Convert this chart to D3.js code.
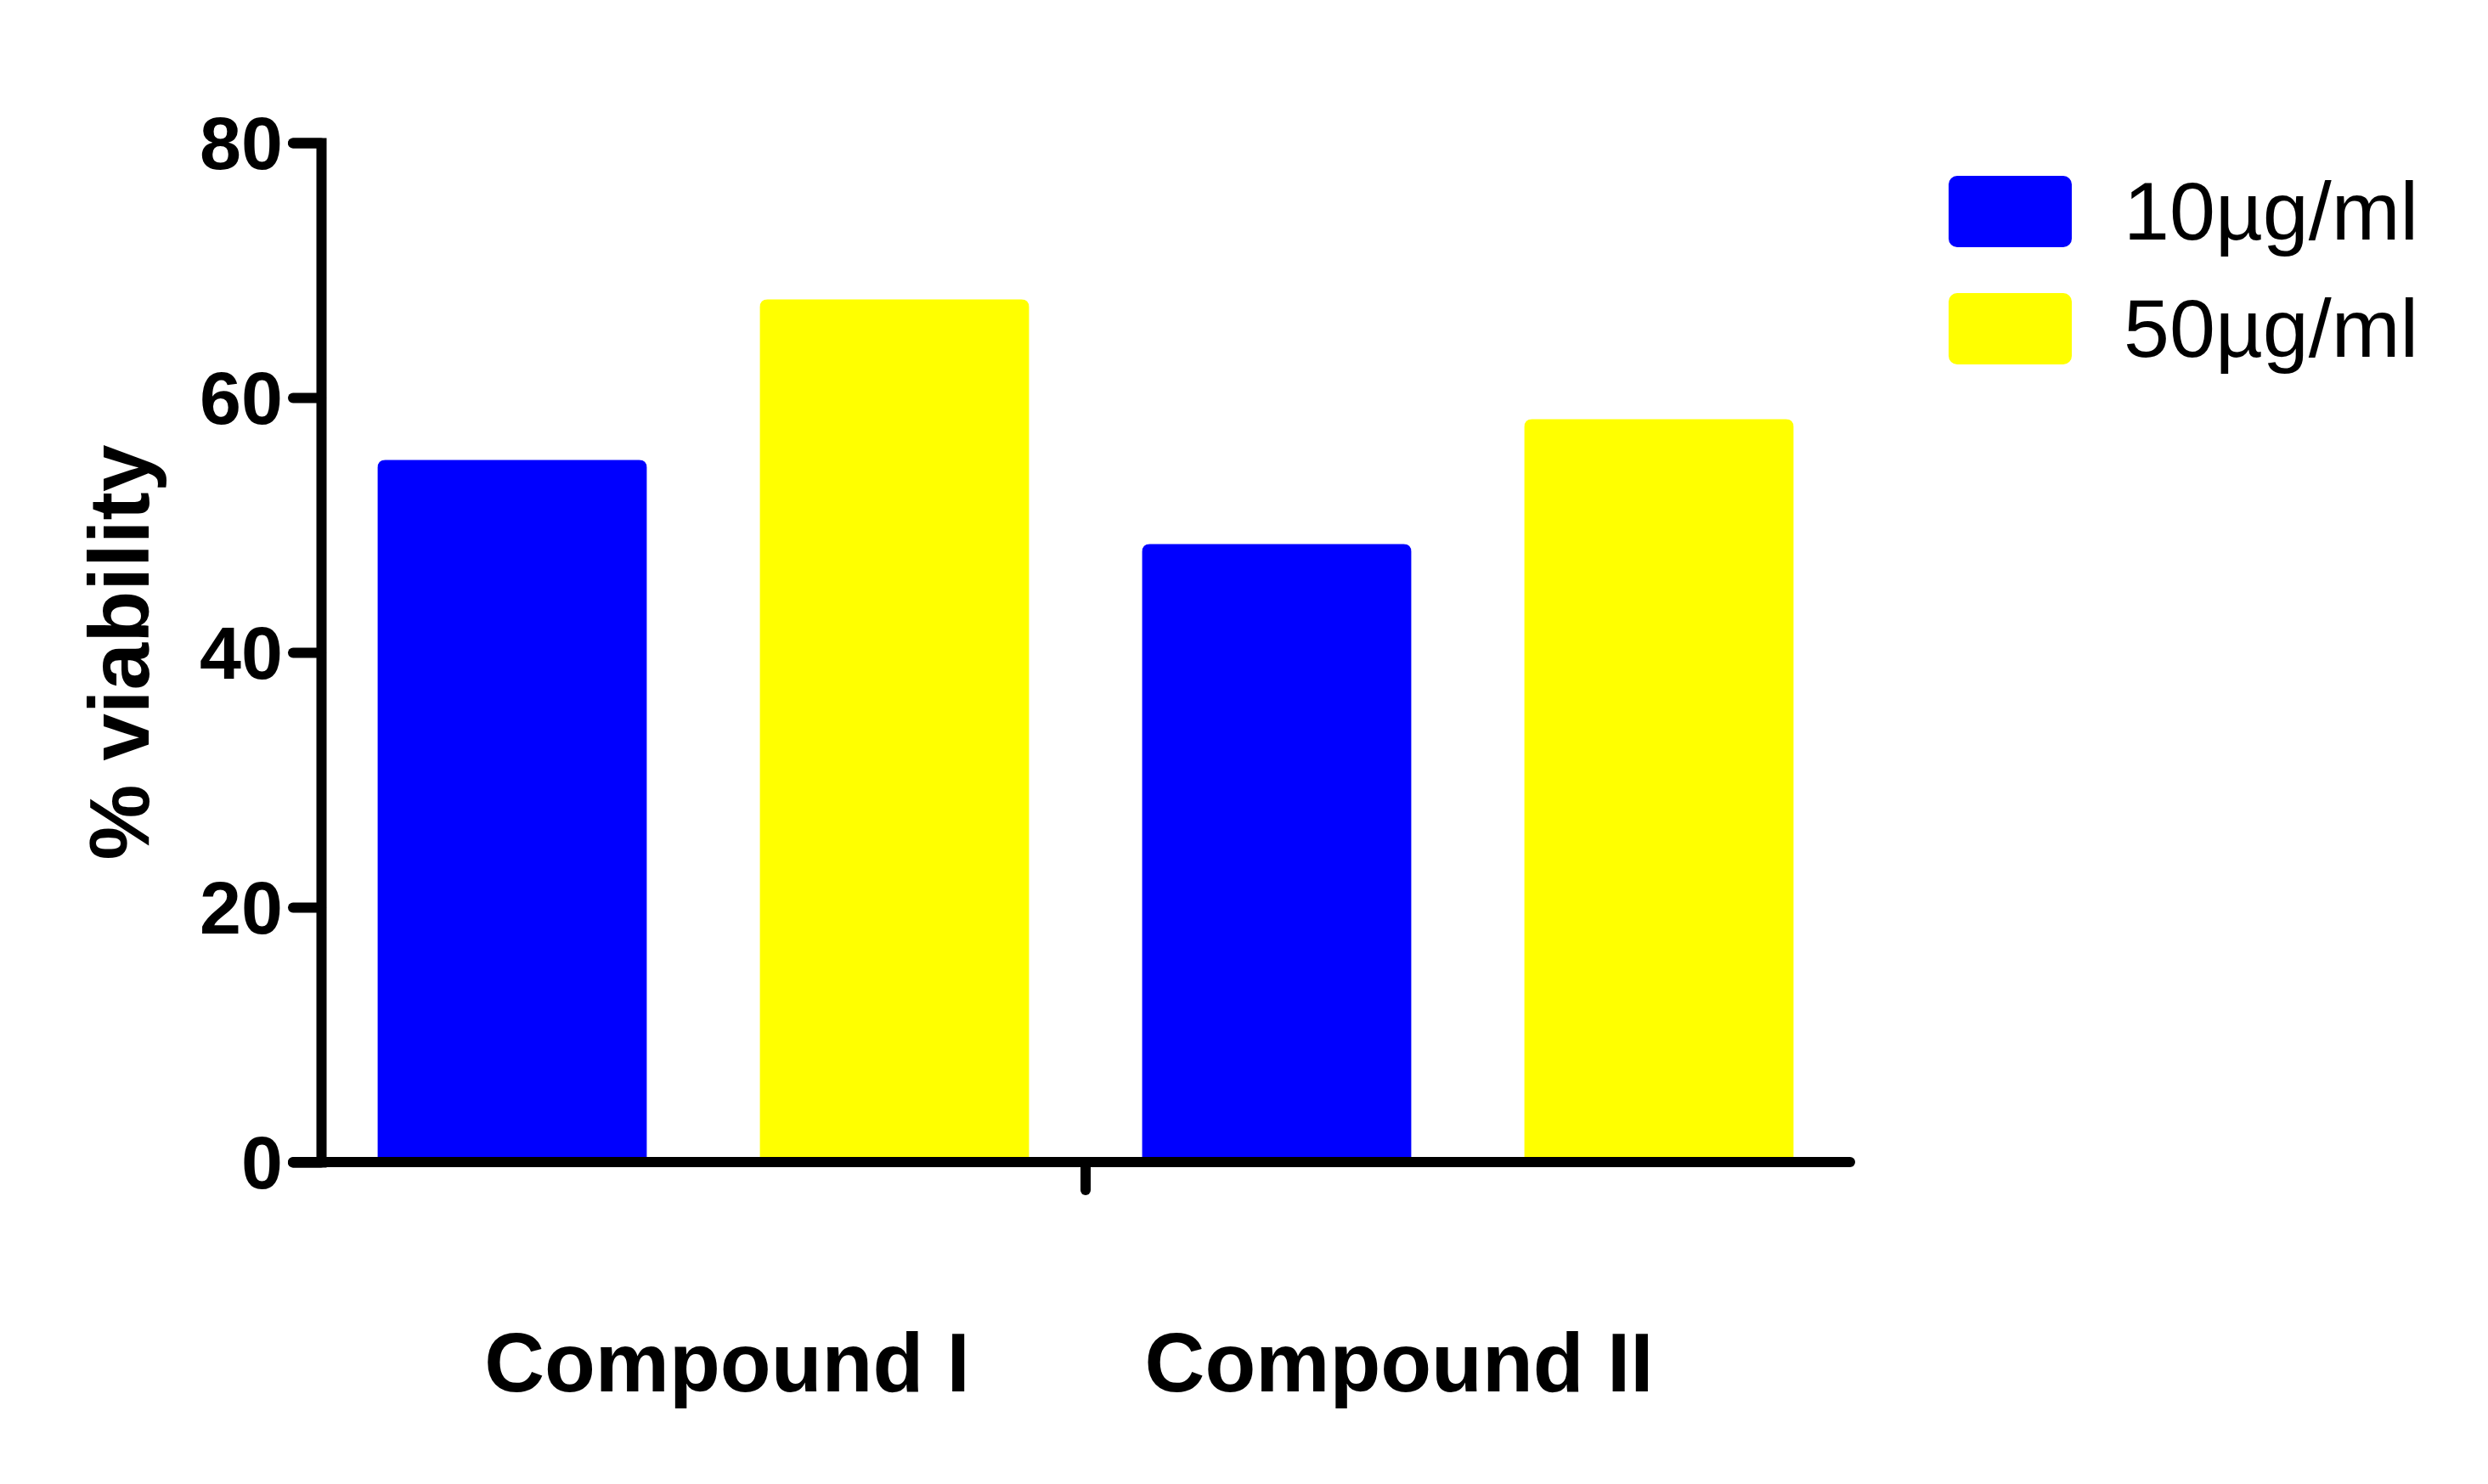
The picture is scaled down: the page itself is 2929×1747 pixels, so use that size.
<!DOCTYPE html>
<html>
<head>
<meta charset="utf-8">
<script src="https://cdn.jsdelivr.net/npm/d3@7"></script>
<style>
    body { margin: 0; background: #fff; }
    svg { display: block; }
    text { font-family: "Liberation Sans", Arial, sans-serif; fill: #000; }
</style>
</head>
<body>
<svg id="chart"></svg>
<script>
// data
var compounds = ["Compound I", "Compound II"];
var doses = ["10µg/ml", "50µg/ml"];
var viability10 = [55.1, 48.5];
var viability50 = [67.7, 58.3];
var yTicks = [0, 20, 40, 60, 80];
var doseColors = ["#0000ff", "#ffff00"];

var svgWidth = 2929;
var svgHeight = 1747;
var tickLen = 33;
var lineW = 12;

var svg = d3.select("#chart")
    .attr("width", svgWidth)
    .attr("height", svgHeight);

// scales
var y = d3.scaleLinear().domain([0, 80]).range([1368, 168]);
var x0 = d3.scaleBand().domain(compounds).range([378, 2178]).padding(0);
var x1 = d3.scaleBand().domain(doses).range([0, x0.bandwidth()])
    .paddingInner(0.296).paddingOuter(0.148);

var rows = [];
compounds.forEach(function (c, i) {
    rows.push({ compound: c, dose: doses[0], value: viability10[i] });
    rows.push({ compound: c, dose: doses[1], value: viability50[i] });
});

// bar with rounded top corners
function barPath(x, yTop, w, yBase, r) {
    return "M" + x + "," + yBase +
        "V" + (yTop + r) +
        "Q" + x + "," + yTop + " " + (x + r) + "," + yTop +
        "H" + (x + w - r) +
        "Q" + (x + w) + "," + yTop + " " + (x + w) + "," + (yTop + r) +
        "V" + yBase + "Z";
}

svg.append("g").selectAll("path")
    .data(rows)
    .enter()
    .append("path")
    .attr("d", function (d) {
        var bx = x0(d.compound) + x1(d.dose);
        return barPath(bx, y(d.value), x1.bandwidth(), y(0), 9);
    })
    .attr("fill", function (d) { return doseColors[doses.indexOf(d.dose)]; });

// y axis
var yAxis = svg.append("g")
    .attr("transform", "translate(" + x0.range()[0] + ",0)")
    .call(d3.axisLeft(y).tickValues(yTicks).tickSize(tickLen).tickSizeOuter(tickLen).tickPadding(12));

yAxis.select(".domain")
    .attr("stroke", "#000")
    .attr("stroke-width", lineW)
    .attr("stroke-linejoin", "miter")
    .attr("stroke-linecap", "round");
yAxis.selectAll(".tick line")
    .attr("stroke", "#000")
    .attr("stroke-width", lineW)
    .attr("stroke-linecap", "round");
yAxis.selectAll(".tick text")
    .attr("font-size", 88)
    .attr("font-weight", "bold")
    .attr("font-family", "'Liberation Sans', Arial, sans-serif")
    .attr("dy", "0.35em");

// x axis
var xr = x0.range();
svg.append("line")
    .attr("x1", xr[0] - tickLen).attr("x2", xr[1])
    .attr("y1", y(0)).attr("y2", y(0))
    .attr("stroke", "#000")
    .attr("stroke-width", lineW)
    .attr("stroke-linecap", "round");

var midX = x0(compounds[1]);
svg.append("line")
    .attr("x1", midX).attr("x2", midX)
    .attr("y1", y(0)).attr("y2", y(0) + tickLen)
    .attr("stroke", "#000")
    .attr("stroke-width", lineW)
    .attr("stroke-linecap", "round");

// category labels (shifted like the original layout)
var labelShift = [28, -81];
svg.append("g").selectAll("text")
    .data(compounds)
    .enter()
    .append("text")
    .attr("x", function (d, i) { return x0(d) + x0.bandwidth() / 2 + labelShift[i]; })
    .attr("y", 1638)
    .attr("text-anchor", "middle")
    .attr("font-size", 98)
    .attr("font-weight", "bold")
    .text(function (d) { return d; });

// y title
svg.append("text")
    .attr("transform", "translate(175," + y(40) + ") rotate(-90)")
    .attr("text-anchor", "middle")
    .attr("font-size", 100)
    .attr("font-weight", "bold")
    .text("% viability");

// legend
var legend = svg.append("g").selectAll("g")
    .data(doses)
    .enter()
    .append("g")
    .attr("transform", function (d, i) { return "translate(2294," + (207 + i * 138) + ")"; });

legend.append("rect")
    .attr("width", 145)
    .attr("height", 84)
    .attr("rx", 10)
    .attr("fill", function (d, i) { return doseColors[i]; });

legend.append("text")
    .attr("x", 206)
    .attr("y", 75)
    .attr("font-size", 97)
    .text(function (d) { return d; });
</script>
</body>
</html>
